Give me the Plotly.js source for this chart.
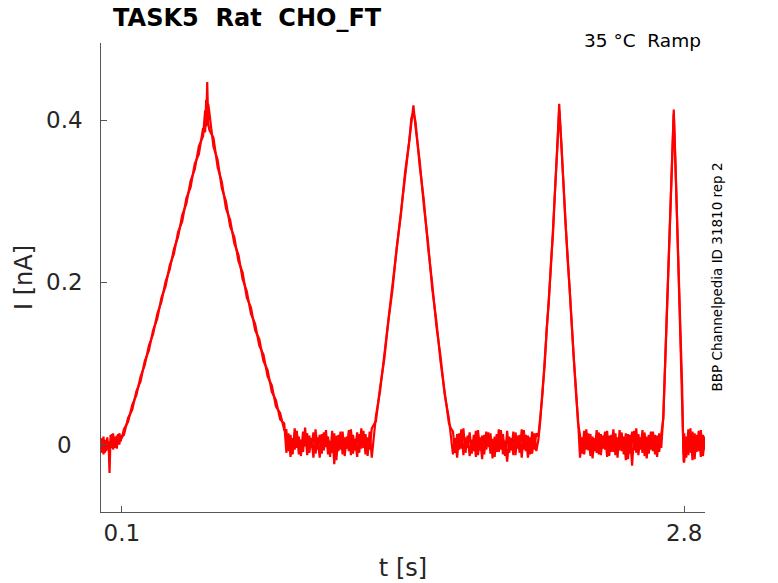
<!DOCTYPE html>
<html>
<head>
<meta charset="utf-8">
<script src="https://cdn.plot.ly/plotly-3.0.1.min.js"></script>
<style>
  html, body { margin: 0; padding: 0; background: #ffffff; }
  #chart { width: 778px; height: 583px; }
</style>
</head>
<body>
<div id="chart"></div>
<script>
// ---- Data (time in s, current in nA) ----
// Sample times, grouped by protocol phase
const time = [
  // hold 0
  0.000, 0.006, 0.012, 0.018, 0.024, 0.030, 0.036, 0.041, 0.046, 0.052, 0.058, 0.064, 0.070, 0.076, 0.082, 0.088, 0.094, 0.100,
  // ramp 1 (up)
  0.11, 0.13, 0.15, 0.17, 0.19, 0.21, 0.23, 0.25, 0.27, 0.29, 0.31, 0.33, 0.35, 0.37, 0.39, 0.41, 0.43, 0.45, 0.47, 0.49, 0.50, 0.505, 0.51, 0.515,
  // ramp 1 (down)
  0.52, 0.54, 0.56, 0.58, 0.60, 0.62, 0.64, 0.66, 0.68, 0.70, 0.72, 0.74, 0.76, 0.78, 0.80, 0.82, 0.84, 0.86, 0.88,
  // hold 1
  0.89, 0.90, 0.91, 0.92, 0.93, 0.94, 0.95, 0.96, 0.97, 0.98, 0.99, 1.00, 1.01, 1.02, 1.03, 1.04, 1.05, 1.06, 1.07, 1.08, 1.09,
  1.10, 1.11, 1.12, 1.13, 1.14, 1.15, 1.16, 1.17, 1.18, 1.19, 1.20, 1.21, 1.22, 1.23, 1.24, 1.25, 1.26, 1.27, 1.28, 1.29, 1.30,
  // ramp 2
  1.32, 1.34, 1.36, 1.38, 1.40, 1.42, 1.44, 1.46, 1.48, 1.49, 1.50, 1.51, 1.53, 1.55, 1.57, 1.59, 1.61, 1.63, 1.65, 1.67, 1.68,
  // hold 2
  1.69, 1.70, 1.71, 1.72, 1.73, 1.74, 1.75, 1.76, 1.77, 1.78, 1.79, 1.80, 1.81, 1.82, 1.83, 1.84, 1.85, 1.86, 1.87, 1.88, 1.89,
  1.90, 1.91, 1.92, 1.93, 1.94, 1.95, 1.96, 1.97, 1.98, 1.99, 2.00, 2.01, 2.02, 2.03, 2.04, 2.05, 2.06, 2.07, 2.08, 2.09, 2.10,
  // ramp 3
  2.11, 2.12, 2.13, 2.14, 2.15, 2.16, 2.17, 2.18, 2.19, 2.20, 2.21, 2.22, 2.23, 2.24, 2.25, 2.26, 2.27, 2.28, 2.29,
  // hold 3
  2.30, 2.31, 2.32, 2.33, 2.34, 2.35, 2.36, 2.37, 2.38, 2.39, 2.40, 2.41, 2.42, 2.43, 2.44, 2.45, 2.46, 2.47, 2.48, 2.49,
  2.50, 2.51, 2.52, 2.53, 2.54, 2.55, 2.56, 2.57, 2.58, 2.59, 2.60, 2.61, 2.62, 2.63, 2.64, 2.65, 2.66, 2.67, 2.68, 2.69,
  // ramp 4
  2.70, 2.71, 2.72, 2.73, 2.74, 2.75, 2.76, 2.77, 2.78, 2.79, 2.797,
  // hold 4
  2.80, 2.81, 2.82, 2.83, 2.84, 2.85, 2.86, 2.87, 2.88, 2.89, 2.90
];

// Sweep A current
const currentA = [
  0.008, -0.006, 0.010, -0.010, 0.006, -0.004, 0.004, -0.035, 0.012, -0.004, 0.014, -0.002, 0.010, -0.005, 0.013, 0.000, 0.012, 0.008,
  0.019, 0.028, 0.049, 0.061, 0.084, 0.098, 0.122, 0.136, 0.161, 0.176, 0.201, 0.216, 0.241, 0.256, 0.283, 0.297, 0.325, 0.339, 0.368, 0.380, 0.412, 0.392, 0.447, 0.396,
  0.388, 0.378, 0.342, 0.324, 0.291, 0.277, 0.248, 0.234, 0.204, 0.189, 0.161, 0.149, 0.122, 0.111, 0.084, 0.073, 0.047, 0.039, 0.018,
  0.018, -0.008, 0.012, -0.012, 0.020, -0.004, 0.010, -0.014, 0.016, -0.002, 0.014, -0.010, 0.008, -0.016, 0.019, -0.006, 0.012, -0.011, 0.015, -0.003, 0.010,
  -0.015, 0.017, -0.024, 0.011, -0.008, 0.016, -0.012, 0.009, -0.005, 0.018, -0.013, 0.012, -0.007, 0.015, -0.010, 0.020, -0.004, 0.013, -0.014, 0.016, -0.016,
  0.035, 0.066, 0.111, 0.148, 0.198, 0.238, 0.290, 0.331, 0.380, 0.396, 0.418, 0.392, 0.350, 0.295, 0.250, 0.193, 0.153, 0.103, 0.068, 0.027, 0.020,
  0.016, -0.010, 0.013, -0.006, 0.019, -0.013, 0.009, -0.004, 0.015, -0.011, 0.012, -0.015, 0.018, -0.007, 0.011, -0.012, 0.016, -0.003, 0.014, -0.017, 0.010,
  -0.009, 0.019, -0.006, 0.013, -0.014, 0.017, -0.010, 0.008, -0.013, 0.015, -0.005, 0.012, -0.016, 0.018, -0.008, 0.011, -0.012, 0.016, -0.006, 0.014, 0.010,
  0.037, 0.063, 0.103, 0.138, 0.181, 0.218, 0.265, 0.308, 0.363, 0.420, 0.367, 0.325, 0.273, 0.235, 0.187, 0.153, 0.105, 0.071, 0.027,
  0.012, -0.011, 0.017, -0.006, 0.014, -0.014, 0.010, -0.008, 0.018, -0.012, 0.013, -0.005, 0.016, -0.015, 0.011, -0.009, 0.019, -0.013, 0.009, -0.007,
  0.015, -0.012, 0.014, -0.018, 0.012, -0.026, 0.017, -0.010, 0.013, -0.006, 0.018, -0.014, 0.010, -0.011, 0.016, -0.008, 0.012, -0.015, 0.014, -0.004,
  0.037, 0.112, 0.183, 0.264, 0.336, 0.413, 0.332, 0.243, 0.162, 0.070, -0.012,
  0.014, -0.016, 0.019, -0.010, 0.016, -0.018, 0.012, -0.008, 0.018, -0.014, 0.010
];

// Sweep B current
const currentB = [
  -0.010, 0.006, -0.012, 0.004, -0.008, 0.009, -0.006, -0.010, 0.002, 0.013, -0.006, 0.008, -0.004, 0.011, 0.002, 0.014, 0.004, 0.010,
  0.012, 0.033, 0.043, 0.066, 0.078, 0.103, 0.116, 0.141, 0.155, 0.181, 0.195, 0.221, 0.235, 0.262, 0.275, 0.304, 0.317, 0.346, 0.358, 0.390, 0.385, 0.425, 0.405, 0.420,
  0.410, 0.367, 0.351, 0.316, 0.300, 0.269, 0.256, 0.226, 0.212, 0.181, 0.169, 0.141, 0.130, 0.103, 0.092, 0.065, 0.055, 0.031, 0.026,
  -0.010, 0.014, -0.015, 0.008, -0.006, 0.017, -0.012, 0.006, -0.009, 0.021, -0.013, 0.011, -0.004, 0.015, -0.011, 0.009, -0.016, 0.013, -0.007, 0.018, -0.012,
  0.005, -0.010, 0.014, -0.019, 0.012, -0.006, 0.016, -0.014, 0.010, -0.008, 0.019, -0.011, 0.007, -0.015, 0.013, -0.005, 0.017, -0.012, 0.009, -0.006, 0.020,
  0.029, 0.071, 0.105, 0.153, 0.192, 0.243, 0.284, 0.336, 0.374, 0.402, 0.410, 0.398, 0.344, 0.301, 0.244, 0.199, 0.147, 0.109, 0.062, 0.033, 0.012,
  -0.012, 0.008, -0.016, 0.014, -0.005, 0.020, -0.010, 0.011, -0.014, 0.006, -0.008, 0.017, -0.013, 0.009, -0.018, 0.012, -0.006, 0.015, -0.011, 0.007, -0.015,
  0.013, -0.009, 0.018, -0.012, 0.005, -0.021, 0.010, -0.007, 0.016, -0.013, 0.011, -0.010, 0.019, -0.006, 0.012, -0.016, 0.009, -0.011, 0.014, -0.008, 0.006,
  0.032, 0.068, 0.097, 0.143, 0.175, 0.223, 0.259, 0.313, 0.357, 0.412, 0.373, 0.319, 0.279, 0.229, 0.193, 0.147, 0.111, 0.065, 0.033,
  -0.016, 0.009, -0.012, 0.019, -0.007, 0.013, -0.017, 0.008, -0.010, 0.015, -0.013, 0.011, -0.006, 0.017, -0.014, 0.012, -0.009, 0.014, -0.016, 0.018,
  -0.008, 0.010, -0.019, 0.013, -0.011, 0.016, -0.007, 0.020, -0.013, 0.009, -0.010, 0.015, -0.017, 0.012, -0.006, 0.016, -0.012, 0.011, -0.009, 0.013,
  0.032, 0.108, 0.187, 0.260, 0.340, 0.408, 0.328, 0.247, 0.158, 0.074, -0.020,
  -0.022, 0.010, -0.013, 0.020, -0.019, 0.014, -0.009, 0.017, -0.015, 0.012, -0.006
];

// Axis ticks
const xTickVals = [0.1, 2.8];
const xTickText = ['0.1', '2.8'];
const yTickVals = [0, 0.2, 0.4];
const yTickText = ['0', '0.2', '0.4'];

// Texts
const titleText = 'TASK5 \u00A0Rat \u00A0CHO_FT';
const conditionText = '35 \u00B0C \u00A0Ramp';
const sourceText = 'BBP Channelpedia ID 31810 rep 2';

const FONT = 'DejaVu Sans, Verdana, sans-serif';
const lineStyle = { color: '#ff0000', width: 2.2 };

const traces = [
  { x: time, y: currentA, type: 'scatter', mode: 'lines', line: lineStyle, hoverinfo: 'skip' },
  { x: time, y: currentB, type: 'scatter', mode: 'lines', line: lineStyle, hoverinfo: 'skip' }
];

const tickFont = { family: FONT, size: 23, color: '#262626' };

const axisCommon = {
  ticks: 'inside',
  ticklen: 6,
  tickwidth: 1,
  tickcolor: '#555555',
  showline: true,
  linecolor: '#555555',
  linewidth: 1,
  showgrid: false,
  zeroline: false,
  mirror: false,
  tickmode: 'array',
  tickfont: tickFont
};

// Y tick labels are centred in a column left of the axis, as in the reference
const yLabelAnnotations = yTickVals.map((v, i) => ({
  text: yTickText[i],
  xref: 'paper', yref: 'y',
  x: (64.5 - 101) / 604, y: v,
  xanchor: 'center', yanchor: 'middle',
  showarrow: false,
  font: tickFont
}));

const layout = {
  width: 778,
  height: 583,
  margin: { l: 101, r: 73, t: 43, b: 71 },
  paper_bgcolor: '#ffffff',
  plot_bgcolor: '#ffffff',
  showlegend: false,
  hovermode: false,
  font: { family: FONT, color: '#262626' },
  title: {
    text: '<b>' + titleText + '</b>',
    font: { family: FONT, size: 24, color: '#000000' },
    xref: 'paper', x: 0.02, xanchor: 'left',
    yref: 'container', y: 1 - 18 / 583, yanchor: 'middle'
  },
  xaxis: Object.assign({}, axisCommon, {
    range: [0, 2.9],
    tickvals: xTickVals,
    ticktext: xTickText,
    title: { text: 't [s]', font: { family: FONT, size: 24, color: '#262626' }, standoff: 14 }
  }),
  yaxis: Object.assign({}, axisCommon, {
    range: [-0.083, 0.495],
    tickvals: yTickVals,
    ticktext: yTickText,
    showticklabels: false,
    title: { text: 'I [nA]', font: { family: FONT, size: 24, color: '#262626' }, standoff: 60 }
  }),
  annotations: yLabelAnnotations.concat([
    {
      text: conditionText,
      xref: 'paper', yref: 'paper',
      x: (703 - 101) / 604, y: 1 + (43 - 40.7) / 469,
      xanchor: 'right', yanchor: 'middle',
      showarrow: false,
      font: { family: FONT, size: 18.5, color: '#000000' }
    },
    {
      text: sourceText,
      xref: 'paper', yref: 'paper',
      x: (716 - 101) / 604, y: 0.5,
      xanchor: 'center', yanchor: 'middle',
      textangle: -90,
      showarrow: false,
      font: { family: FONT, size: 13.5, color: '#000000' }
    }
  ])
};

Plotly.newPlot('chart', traces, layout, { staticPlot: true, displayModeBar: false });
</script>
</body>
</html>
